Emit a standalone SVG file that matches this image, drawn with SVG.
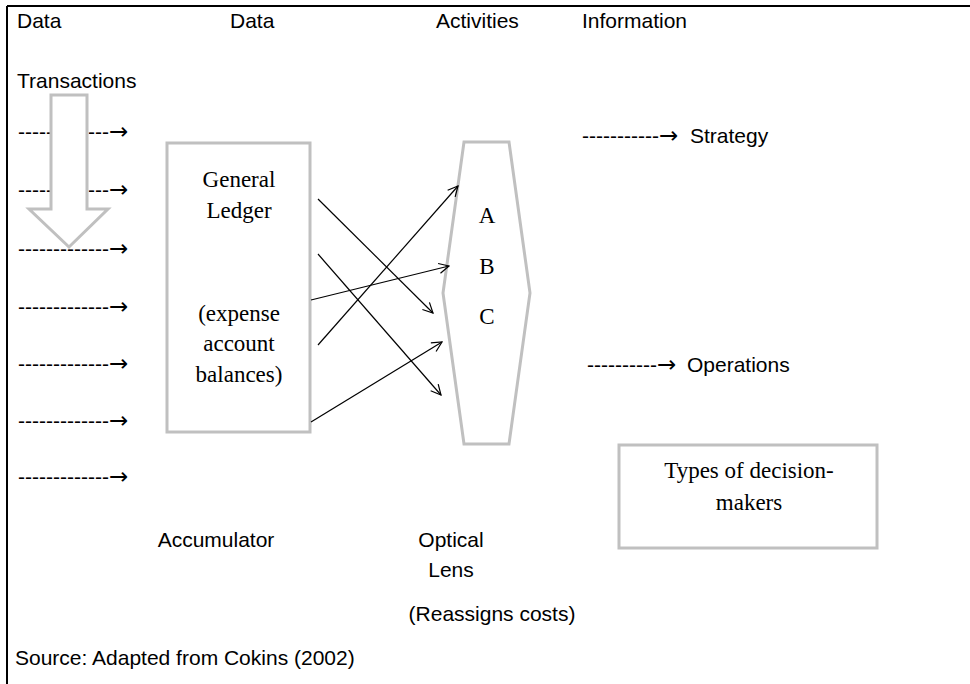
<svg xmlns="http://www.w3.org/2000/svg" width="970" height="684" viewBox="0 0 970 684">
  <defs>
    <marker id="open" viewBox="0 0 12 12" refX="11" refY="6" markerWidth="12" markerHeight="12" markerUnits="userSpaceOnUse" orient="auto">
      <path d="M1,1 L11,6 L1,11" fill="none" stroke="#000" stroke-width="1.2"/>
    </marker>
  </defs>
  <style>
    .sans { font-family: "Liberation Sans", Arial, sans-serif; font-size: 21px; fill: #000; }
    .serif { font-family: "Liberation Serif", "Times New Roman", serif; font-size: 23px; fill: #000; }
    .arr { font-family: "DejaVu Sans", sans-serif; font-size: 23px; }
    .gray { fill: #fff; stroke: #c0c0c0; stroke-width: 3; }
    .link { stroke: #000; stroke-width: 1.2; fill: none; marker-end: url(#open); }
  </style>
  <rect x="0" y="0" width="970" height="684" fill="#fff"/>
  <!-- frame: top and left rules only -->
  <line x1="7" y1="6" x2="970" y2="6" stroke="#000" stroke-width="2"/>
  <line x1="7" y1="6" x2="7" y2="684" stroke="#000" stroke-width="2"/>

  <!-- column headings -->
  <g id="headings" class="sans">
    <text x="17" y="28">Data</text>
    <text x="230" y="28">Data</text>
    <text x="436" y="28">Activities</text>
    <text x="582" y="28">Information</text>
    <text x="17" y="88">Transactions</text>
  </g>

  <!-- incoming transaction feeds -->
  <g id="feeds" class="sans">
    <text x="18" y="139">-------------<tspan class="arr">→</tspan></text>
    <text x="18" y="197">-------------<tspan class="arr">→</tspan></text>
    <text x="18" y="256">-------------<tspan class="arr">→</tspan></text>
    <text x="18" y="314">-------------<tspan class="arr">→</tspan></text>
    <text x="18" y="371">-------------<tspan class="arr">→</tspan></text>
    <text x="18" y="428">-------------<tspan class="arr">→</tspan></text>
    <text x="18" y="484">-------------<tspan class="arr">→</tspan></text>
  </g>

  <!-- block arrow over the feeds -->
  <g id="flow-arrow">
    <path class="gray" d="M51,95 L87,95 L87,209 L108,209 L69,247 L29,209 L51,209 Z"/>
  </g>

  <g id="ledger">
    <rect class="gray" x="167" y="143" width="143" height="289"/>
    <text class="serif" text-anchor="middle" x="239" y="187">General</text>
    <text class="serif" text-anchor="middle" x="239" y="218">Ledger</text>
    <text class="serif" text-anchor="middle" x="239" y="321">(expense</text>
    <text class="serif" text-anchor="middle" x="239" y="351">account</text>
    <text class="serif" text-anchor="middle" x="239" y="382">balances)</text>
  </g>

  <g id="lens">
    <path class="gray" d="M464,142 L509,142 L530,293 L509,444 L464,444 L443,293 Z"/>
    <text class="serif" text-anchor="middle" x="487" y="223">A</text>
    <text class="serif" text-anchor="middle" x="487" y="274">B</text>
    <text class="serif" text-anchor="middle" x="487" y="324">C</text>
  </g>

  <g id="outputs" class="sans">
    <text x="582" y="143">-----------<tspan class="arr">→</tspan><tspan x="690">Strategy</tspan></text>
    <text x="587" y="372">----------<tspan class="arr">→</tspan><tspan x="687">Operations</tspan></text>
  </g>

  <g id="decision-makers">
    <rect class="gray" x="619" y="445" width="258" height="103"/>
    <text class="serif" text-anchor="middle" x="749" y="478">Types of decision-</text>
    <text class="serif" text-anchor="middle" x="749" y="510">makers</text>
  </g>

  <g id="connectors">
    <line class="link" x1="318" y1="199" x2="433" y2="313"/>
    <line class="link" x1="318" y1="254" x2="441" y2="395"/>
    <line class="link" x1="311" y1="300" x2="449" y2="266"/>
    <line class="link" x1="318" y1="345" x2="458" y2="186"/>
    <line class="link" x1="311" y1="422" x2="442" y2="342"/>
  </g>

  <g id="captions" class="sans">
    <text x="216" y="547" text-anchor="middle">Accumulator</text>
    <text x="451" y="547" text-anchor="middle">Optical</text>
    <text x="451" y="577" text-anchor="middle">Lens</text>
    <text x="492" y="621" text-anchor="middle">(Reassigns costs)</text>
    <text x="15" y="665">Source: Adapted from Cokins (2002)</text>
  </g>
</svg>
